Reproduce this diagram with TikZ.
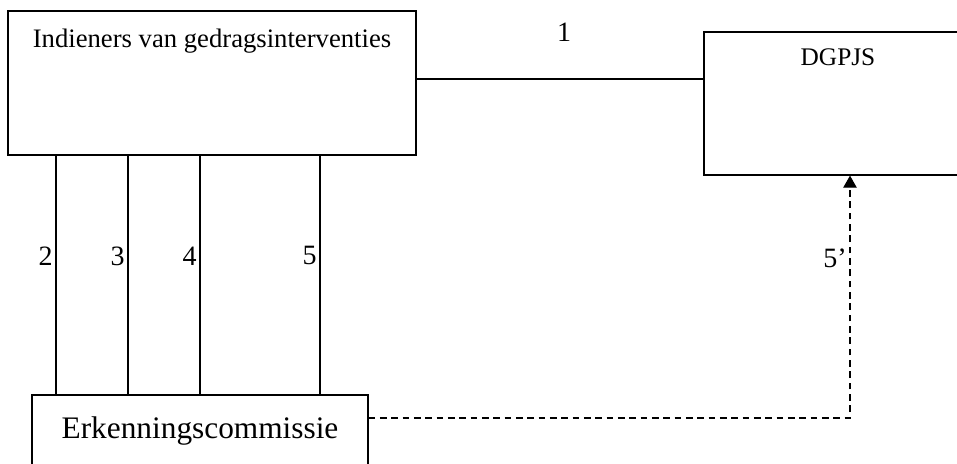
\documentclass[tikz,border=0pt]{standalone}
\usepackage{fontspec}
\setmainfont{Liberation Serif}
\usetikzlibrary{arrows.meta}

\tikzset{
  box/.style={draw, line width=0.9pt, rectangle, inner sep=0pt},
  num/.style={font=\fontsize{21}{25}\selectfont, inner sep=2pt},
  link/.style={line width=0.9pt},
}

\begin{document}
\begin{tikzpicture}[x=0.75pt,y=-0.75pt]
		\clip (0,0) rectangle (957,464);
		
		\node (indieners) [box, minimum width=306pt, minimum height=108pt] at (212,83) {};
		\node (dgpjs) [box, minimum width=201pt, minimum height=107.25pt] at (838,103.5) {};
		\node (erkenning) [box, minimum width=252pt, minimum height=54pt,
			font=\fontsize{23.5}{28}\selectfont] at (200,431) {Erkenningscommissie};
		
		\node (indtxt) [anchor=base, font=\fontsize{20}{24}\selectfont, inner sep=0pt]
			at ([yshift=-27.75pt]indieners.north) {Indieners van gedragsinterventies};
		\node (dgtxt) [anchor=base, font=\fontsize{19}{23}\selectfont, inner sep=0pt]
			at ([yshift=-25.5pt]dgpjs.north) {DGPJS};
		
		\coordinate (start1) at ([yshift=3pt]indieners.east);
		\draw[link] (start1) -- node[num, above=26pt, xshift=3pt] {1}
			(dgpjs.west |- start1);
		
		\foreach \x/\n in {56/2,128/3,200/4,320/5}
			\draw[link] (indieners.south -| \x,0) -- node[num, pos=0.42, anchor=east] {\n}
				(erkenning.north -| \x,0);
		
		\draw[link, dash pattern=on 5pt off 3.5pt, -{Triangle[length=9pt,width=10pt]}]
			([yshift=9.75pt]erkenning.east) -| node[num, pos=0.83, anchor=east] {5’}
			([xshift=9pt]dgpjs.south);
		\end{tikzpicture}
\end{document}
